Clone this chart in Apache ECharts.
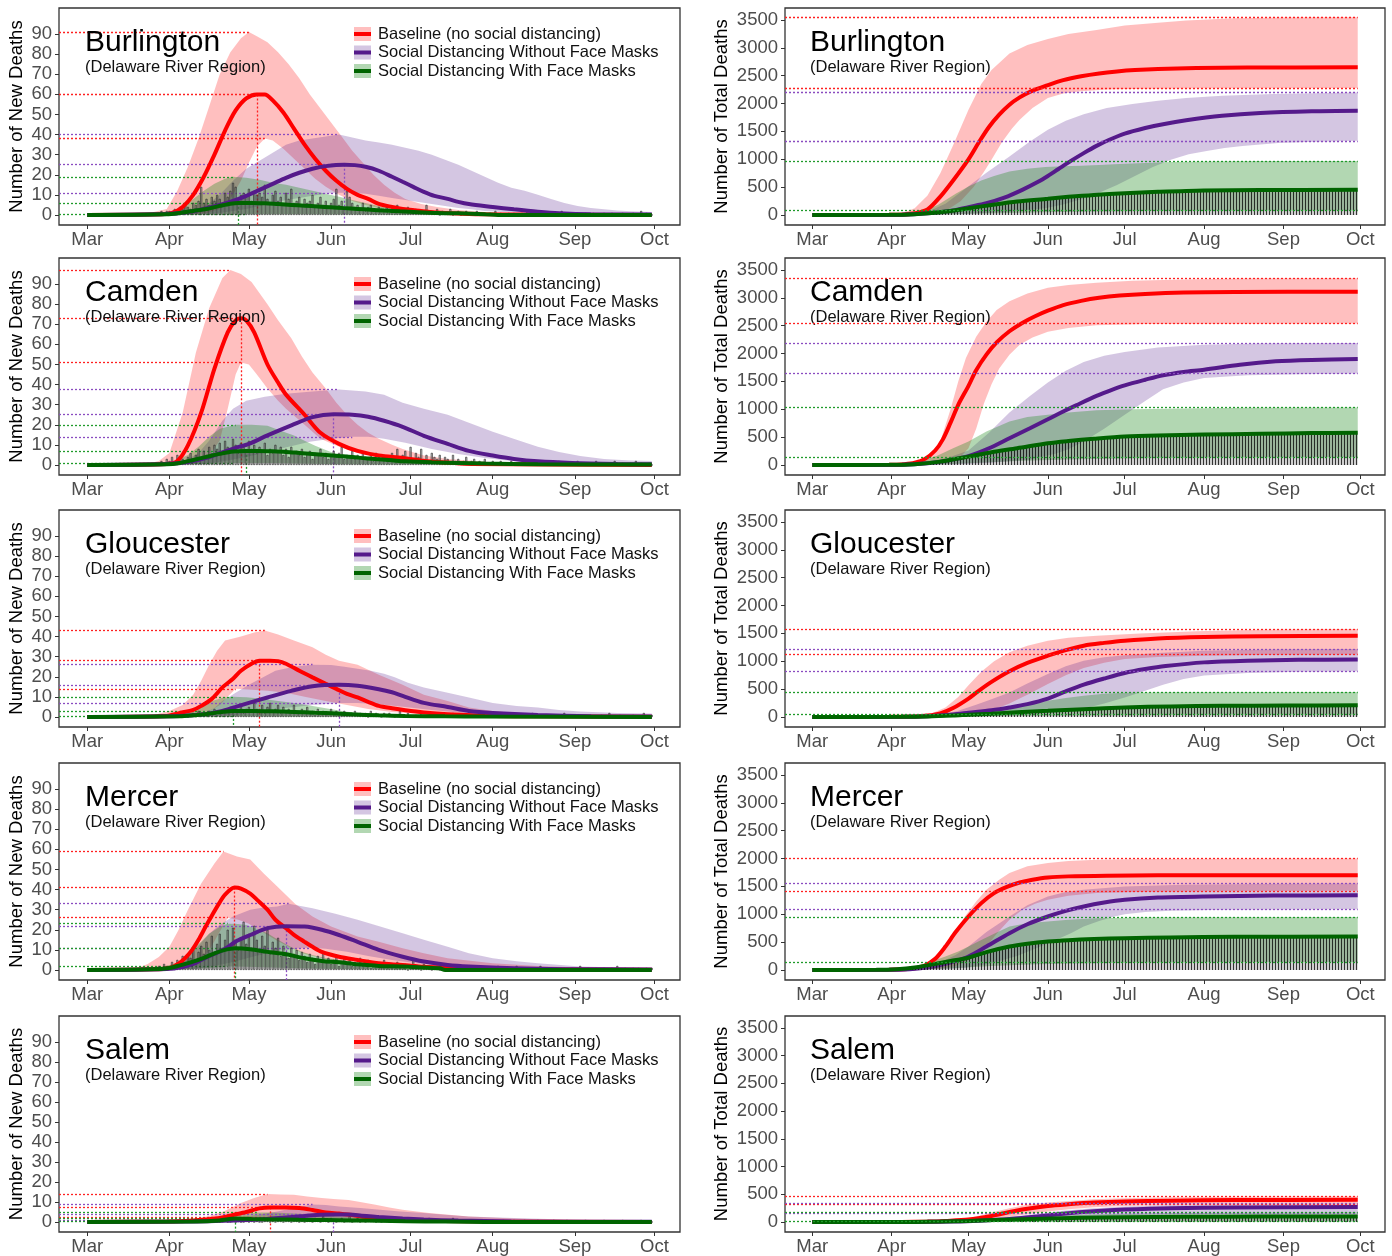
<!DOCTYPE html>
<html><head><meta charset="utf-8">
<script src="https://cdn.jsdelivr.net/npm/echarts@6/dist/echarts.min.js"></script>
<style>html,body{margin:0;padding:0;background:#fff}#c{width:1392px;height:1256px}</style>
</head><body><div id="c"></div>
<script>
// ---------- axis / category data ----------
const counties = ['Burlington','Camden','Gloucester','Mercer','Salem'];
const regionLabel = '(Delaware River Region)';
const monthStarts = [0,31,61,92,122,153,184,214];   // day index from Mar 1
const monthLabels = ['Mar','Apr','May','Jun','Jul','Aug','Sep','Oct'];
const newDeathTicks = [0,10,20,30,40,50,60,70,80,90];
const totalDeathTicks = [0,500,1000,1500,2000,2500,3000,3500];
const scenarioNames = ['Baseline (no social distancing)','Social Distancing Without Face Masks','Social Distancing With Face Masks'];
const barStartDay = 24; // observed daily deaths start Mar 25

// ---------- Burlington ----------
const burNewRed=[[0,0],[28,0.3],[32,1],[36,4],[40,10],[44,19],[48,30],[52,42],[56,52],[60,58],[64,60],[67,60],[70,57],[74,51],[78,43],[82,35],[86,28],[90,22],[94,17],[98,13],[102,10],[106,8],[110,5.5],[115,4],[120,2.8],[126,2],[132,1.2],[140,0.7],[150,0.3],[213,0]];
const burNewRedHi=[[0,0],[20,0.5],[25,1.5],[30,3],[34,12],[38,24],[42,38],[46,54],[50,70],[54,81],[58,88],[61,91],[64,89],[68,86],[72,81],[76,75],[80,68],[84,60],[88,53],[92,46],[96,39],[100,32],[104,26],[108,20],[112,15],[116,11],[120,8],[126,5.5],[132,4],[140,2.5],[150,1.5],[165,1],[213,0.5]];
const burNewRedLo=[[0,0],[40,0.3],[45,1],[50,3],[54,8],[58,17],[61,26],[64,34],[67,38],[70,37],[74,33],[78,28],[82,23],[86,18],[90,14],[95,10],[100,7],[105,5],[110,3.5],[120,2],[130,1],[145,0.5],[213,0]];
const burNewPur=[[0,0],[30,0.5],[38,1.5],[44,3],[50,5],[55,7],[60,9.5],[65,12.5],[70,15.5],[75,18.5],[80,21],[85,23],[90,24.3],[97,25],[101,24.8],[105,24],[110,22],[115,19],[119,16.5],[123,14],[127,11.5],[131,9.5],[136,8],[140,6.5],[144,5.4],[153,4],[161,2.8],[170,1.6],[178,0.8],[190,0.3],[213,0.2]];
const burNewPurHi=[[0,0],[35,0.5],[40,2],[45,5],[50,10],[55,17],[60,23],[65,27],[70,31],[75,35],[80,37],[85,38],[90,39],[95,40],[100,38.5],[105,37],[110,36],[115,35],[120,33.5],[125,32],[130,30],[135,27.5],[140,25],[145,22],[150,19],[155,16],[160,13.5],[165,12],[170,10],[175,8],[180,6],[185,4.5],[190,3.5],[195,2.8],[200,2.2],[205,1.8],[213,1.5]];
const burNewPurLo=[[0,0],[45,0.3],[50,1],[55,2],[60,3],[65,4.5],[70,6],[75,7.5],[80,8.5],[85,9.5],[90,10.5],[95,11],[100,11],[105,10.5],[110,9.5],[115,8.5],[120,7.5],[125,6.5],[130,5.5],[135,4.5],[140,3.5],[145,2.8],[150,2],[160,1.2],[170,0.6],[180,0.3],[213,0]];
const burNewGrn=[[0,0],[30,0.3],[35,1],[40,2],[45,3],[50,4.5],[54,5.6],[57,6],[62,6],[67,5.8],[72,5.4],[77,5],[82,4.6],[87,4.2],[92,3.8],[97,3.4],[102,3],[107,2.6],[112,2.2],[118,1.8],[125,1.4],[132,1],[140,0.8],[150,0.4],[155,0],[213,0]];
const burNewGrnHi=[[0,0],[28,0.5],[32,2],[36,4.5],[40,8],[44,12],[48,15.5],[52,18],[55,19],[60,18.5],[65,17.5],[70,16],[75,15],[80,13.5],[85,12],[90,10.5],[95,9],[100,7.5],[105,6],[110,4.5],[115,3.5],[120,2.5],[130,1.5],[140,1],[150,0.5],[213,0]];
const burNewGrnLo=[[0,0],[50,0.2],[60,0.4],[80,0.4],[100,0.2],[120,0],[213,0]];
const burTotRed=[[0,0],[30,2],[36,10],[40,30],[45,100],[50,330],[55,620],[61,1000],[65,1300],[69,1580],[73,1800],[77,1980],[81,2110],[85,2210],[92,2330],[98,2420],[105,2490],[112,2540],[119,2575],[126,2600],[135,2620],[150,2638],[170,2647],[213,2650]];
const burTotRedHi=[[0,0],[28,3],[35,30],[40,120],[45,350],[50,750],[55,1250],[61,1890],[66,2350],[70,2600],[77,2900],[84,3050],[92,3160],[100,3250],[111,3320],[122,3400],[135,3450],[146,3490],[165,3530],[185,3545],[213,3550]];
const burTotRedLo=[[0,0],[40,5],[47,30],[53,100],[58,250],[63,500],[67,770],[70,990],[74,1300],[78,1550],[81,1710],[86,1920],[92,2100],[98,2180],[105,2220],[115,2250],[130,2265],[150,2275],[213,2280]];
const burTotPur=[[0,0],[35,5],[45,30],[55,80],[61,140],[68,210],[75,310],[82,450],[88,590],[92,700],[96,820],[101,970],[106,1110],[111,1240],[116,1350],[122,1460],[130,1560],[137,1630],[146,1700],[160,1780],[175,1830],[195,1860],[213,1870]];
const burTotPurHi=[[0,0],[35,8],[45,60],[52,200],[60,480],[68,760],[77,1050],[85,1320],[92,1530],[99,1690],[106,1810],[115,1920],[125,1990],[135,2050],[146,2100],[160,2140],[180,2170],[213,2200]];
const burTotPurLo=[[0,0],[50,10],[65,30],[77,60],[91,120],[98,190],[105,280],[112,400],[119,540],[126,700],[133,860],[140,990],[147,1090],[154,1150],[161,1200],[168,1240],[182,1290],[196,1315],[213,1330]];
const burTotGrn=[[0,0],[30,3],[40,15],[50,50],[61,120],[70,180],[80,240],[92,290],[100,325],[110,360],[122,390],[135,415],[153,440],[175,448],[213,452]];
const burTotGrnHi=[[0,0],[35,10],[42,50],[49,180],[56,380],[61,510],[66,620],[71,700],[77,780],[84,830],[91,860],[98,875],[105,885],[112,895],[120,915],[130,935],[140,950],[155,960],[175,967],[213,970]];
const burTotGrnLo=[[0,0],[50,5],[63,20],[77,35],[91,50],[110,62],[130,72],[160,78],[213,80]];
const burBars=[0,1,0,1,2,1,2,2,1,3, 2,4,3,5,4,3,6,5,7,14, 6,8,5,9,7,10,8,6,11,9, 12,16,14,8,10,11,9,13,7,12, 10,11,9,15,8,6,10,12,7,9, 5,11,8,13,6,7,9,5,8,6, 7,10,4,6,9,5,7,4,6,8, 13,5,7,3,12,9,6,4,5,3, 6,2,4,5,3,2,4,3,2,4, 1,3,2,5,3,1,2,4,2,1, 3,2,1,2,5,1,2,1,3,0, 2,1,1,3,0,1,2,0,1,2, 0,1,0,2,1,0,1,0,1,0, 2,0,1,0,0,1,0,1,0,0, 1,0,2,0,1,0,0,1,0,1, 0,0,1,0,0,2,0,0,1,0, 0,1,0,0,1,0,0,1,0,0, 0,1,0,0,1,0,0,0,1,0, 0,0,1,0,0,2,0,1,0,0];

// ---------- Camden ----------
const camNewRed=[[0,0],[30,0.5],[34,2],[38,9.7],[43,26],[48,48],[53,66],[56,72],[58,73],[60,72],[63,66],[68,50],[72,41],[75,35],[82,25],[88,16],[95,10.5],[102,7],[110,4.7],[119,3.5],[127,2],[136,1.2],[145,0.5],[213,0]];
const camNewRedHi=[[0,0],[22,0.3],[27,2],[31,6],[36,26],[41,56],[46,78],[51,93],[54,97],[58,95],[62,91],[68,80],[72,72],[77,63],[81,54],[85,46],[90,38],[94,31],[98,25],[102,20],[106,16],[110,13],[115,10],[119,8],[127,4.7],[136,3],[153,1.3],[170,0.5],[213,0.3]];
const camNewRedLo=[[0,0],[40,0.5],[45,3],[50,12],[53,28],[56,45],[58,51],[61,50],[64,45],[68,38],[72,32],[75,28],[82,20],[88,13],[95,9],[102,6],[110,4],[120,2.5],[130,1.5],[145,0.5],[213,0]];
const camNewPur=[[0,0],[30,0.5],[38,1.5],[45,3.5],[51,6.3],[56,8.5],[61,10.5],[68,14.7],[77,19.7],[85,23.8],[93,25.2],[100,25],[106,24],[112,22],[119,19],[127,14.5],[136,10.5],[144,7],[153,4.7],[161,3],[170,1.8],[183,1],[200,0.5],[213,0.3]];
const camNewPurHi=[[0,0],[33,1],[38,3],[42,6],[46,12],[51,22],[55,28],[60,32],[67,34],[75,35.5],[85,36.5],[95,37.5],[100,37],[105,36.5],[112,35],[119,31],[127,28],[136,25],[145,20.5],[153,16.5],[162,12.5],[170,9],[178,6.5],[186,4.5],[195,3],[205,2.2],[213,2]];
const camNewPurLo=[[0,0],[45,0.5],[52,2],[60,4],[68,6.5],[76,9],[84,11.5],[92,13],[100,14],[106,14],[112,13],[120,11],[130,8],[140,5.5],[150,3.5],[160,2],[170,1],[185,0.3],[213,0]];
const camNewGrn=[[0,0],[30,0.3],[35,1],[40,2.5],[45,4],[50,5.5],[55,6.7],[60,7],[65,7],[70,6.8],[75,6.5],[80,6],[85,5.5],[90,5],[95,4.5],[100,4],[105,3.3],[110,2.8],[115,2.3],[120,1.8],[130,1.3],[140,1],[150,0.7],[170,0.3],[213,0.2]];
const camNewGrnHi=[[0,0],[28,0.5],[33,2],[38,5],[42,9],[46,14],[50,18],[56,20],[62,20],[68,19.5],[73,17],[78,14.7],[82,12],[86,9.5],[90,7.5],[94,5.5],[100,4],[105,3],[115,2],[125,1.5],[140,1],[160,0.5],[213,0.3]];
const camNewGrnLo=[[0,0],[45,0.5],[55,1],[70,1],[90,0.5],[110,0.2],[213,0]];
const camTotRed=[[0,0],[30,3],[36,15],[40,40],[44,110],[48,260],[51,460],[54,760],[57,1080],[61,1420],[64,1700],[68,1980],[72,2200],[77,2400],[82,2550],[87,2670],[92,2770],[98,2870],[105,2945],[112,3000],[120,3040],[130,3070],[145,3095],[165,3105],[213,3110]];
const camTotRedHi=[[0,0],[30,5],[38,30],[43,90],[47,200],[50,420],[54,1000],[57,1500],[60,1920],[64,2300],[68,2570],[72,2780],[77,2940],[84,3080],[92,3180],[100,3230],[111,3270],[125,3305],[145,3330],[170,3345],[213,3350]];
const camTotRedLo=[[0,0],[40,5],[50,30],[55,80],[58,150],[61,300],[64,650],[67,1100],[70,1450],[73,1730],[77,1980],[81,2160],[86,2290],[92,2390],[100,2460],[111,2510],[130,2530],[213,2540]];
const camTotPur=[[0,0],[35,5],[45,30],[53,80],[61,160],[69,300],[77,480],[85,660],[92,820],[98,960],[103,1070],[111,1240],[117,1350],[122,1430],[130,1530],[137,1610],[145,1670],[153,1710],[167,1800],[181,1860],[195,1885],[213,1900]];
const camTotPurHi=[[0,0],[35,8],[45,50],[53,130],[61,260],[69,580],[77,940],[85,1240],[92,1480],[99,1690],[106,1850],[114,1960],[122,2030],[135,2110],[153,2160],[175,2180],[213,2190]];
const camTotPurLo=[[0,0],[55,10],[70,40],[85,100],[95,200],[100,280],[106,420],[114,650],[122,900],[130,1150],[137,1360],[145,1480],[153,1560],[170,1610],[190,1630],[213,1640]];
const camTotGrn=[[0,0],[30,3],[40,15],[50,60],[61,150],[70,230],[80,300],[92,390],[100,430],[110,470],[122,510],[135,530],[153,545],[175,560],[195,572],[213,580]];
const camTotGrnHi=[[0,0],[35,10],[42,60],[49,170],[55,300],[61,420],[68,600],[77,780],[84,860],[92,900],[100,940],[111,980],[125,1000],[145,1015],[170,1025],[213,1030]];
const camTotGrnLo=[[0,0],[50,10],[65,40],[80,70],[100,100],[125,120],[160,133],[213,140]];
const camBars=[0,0,1,0,2,1,3,2,4,1, 5,2,3,1,4,6,3,5,8,4, 7,5,9,6,10,8,11,7,12,9, 8,13,10,6,11,9,7,12,8,10, 6,9,7,11,5,8,6,10,7,9, 5,8,4,9,6,7,5,8,4,6, 7,3,6,5,8,4,6,3,5,7, 4,6,9,3,5,4,7,3,5,4, 6,3,4,5,2,6,4,3,5,2, 4,6,3,8,2,5,7,4,9,3, 6,4,8,3,5,2,6,4,3,5, 2,4,3,1,5,2,3,1,2,4, 1,2,3,0,2,1,3,1,0,2, 1,0,2,1,0,1,2,0,1,0, 1,2,0,1,0,1,0,2,1,0, 0,1,0,1,2,0,1,0,0,1, 0,2,1,0,1,0,1,0,2,0, 1,0,1,0,0,2,1,0,1,0, 0,1,0,2,0,1,0,0,1,0];

// ---------- Gloucester ----------
const gloNewRed=[[0,0],[30,0.5],[35,2],[40,3.5],[43,5.5],[47,9],[51,14.7],[55,19],[58,23],[62,26.5],[65,28],[69,28],[72,27.8],[75,26.5],[80,23],[85,19.7],[90,16.5],[94,14],[98,11.5],[102,9.7],[106,7.5],[110,5.5],[115,4.3],[120,3.3],[127,2.2],[136,1.3],[150,0.6],[170,0.3],[213,0.1]];
const gloNewRedHi=[[0,0],[20,0.5],[25,1],[31,3],[36,6],[40,11],[43,18],[46,26],[49,33],[52,38],[58,40],[63,42],[67,43],[72,41],[78,38],[85,34.7],[90,31],[95,28],[102,26],[110,21],[119,16],[127,11],[136,8],[144,4.7],[153,3],[165,1.5],[180,0.8],[213,0.5]];
const gloNewRedLo=[[0,0],[40,0.5],[45,2],[50,6],[53,10],[56,14],[62,13.5],[68,13],[75,12],[82,10],[90,8],[98,6],[106,4],[115,2.5],[125,1.5],[140,0.5],[213,0]];
const gloNewPur=[[0,0],[35,0.5],[45,1.5],[51,3],[56,5],[61,7],[68,9.7],[77,13],[85,15.3],[95,16],[102,15.5],[110,13.8],[115,12.3],[119,10.5],[127,7],[136,5],[144,3],[153,2],[170,1],[190,0.4],[213,0.2]];
const gloNewPurHi=[[0,0],[38,0.5],[44,2],[48,4.5],[51,8],[56,12],[61,16],[66,19.5],[71,23],[78,25],[85,26],[92,25.8],[97,25],[102,24],[107,23],[112,21.5],[116,19.7],[121,17],[127,14.7],[136,12],[144,9.7],[153,7],[162,5.5],[170,4.7],[178,3.5],[186,2.7],[200,2],[213,1.7]];
const gloNewPurLo=[[0,0],[45,0.3],[55,1],[65,2.5],[75,4.5],[85,6],[95,7],[102,7],[110,6.3],[120,5],[130,3.5],[140,2.2],[150,1.3],[165,0.6],[180,0.2],[213,0]];
const gloNewGrn=[[0,0],[35,0.3],[40,0.8],[45,1.5],[50,2.3],[55,3],[62,3],[70,2.8],[78,2.5],[86,2.1],[94,1.7],[100,1.3],[110,0.8],[120,0.5],[135,0.3],[150,0.2],[213,0]];
const gloNewGrnHi=[[0,0],[30,0.5],[36,2],[41,4.5],[46,7.5],[51,9.5],[55,10],[60,9.8],[66,9],[72,8],[78,7],[84,5.7],[90,4.3],[96,3],[102,2],[110,1.2],[125,0.6],[150,0.3],[213,0]];
const gloNewGrnLo=[[0,0],[55,0.2],[80,0.1],[213,0]];
const gloTotRed=[[0,0],[30,2],[40,10],[45,25],[50,65],[55,160],[61,330],[65,470],[70,630],[77,820],[84,970],[92,1100],[99,1200],[106,1280],[114,1330],[122,1370],[135,1410],[153,1435],[175,1450],[213,1460]];
const gloTotRedHi=[[0,0],[35,5],[42,25],[47,70],[52,170],[57,360],[61,570],[66,810],[71,1000],[77,1160],[84,1280],[92,1370],[100,1420],[111,1460],[128,1500],[150,1540],[175,1565],[213,1580]];
const gloTotRedLo=[[0,0],[45,5],[55,20],[65,70],[72,150],[77,240],[84,400],[92,590],[99,750],[106,880],[114,975],[122,1040],[135,1075],[153,1100],[180,1115],[213,1120]];
const gloTotPur=[[0,0],[35,3],[45,15],[55,45],[61,75],[70,120],[77,170],[84,230],[92,330],[99,460],[106,580],[114,690],[122,790],[130,860],[138,915],[153,980],[170,1010],[190,1025],[213,1030]];
const gloTotPurHi=[[0,0],[40,5],[50,40],[57,110],[64,220],[70,320],[77,440],[84,600],[92,770],[99,910],[106,1010],[114,1070],[122,1110],[135,1150],[153,1190],[180,1210],[213,1220]];
const gloTotPurLo=[[0,0],[60,10],[80,30],[95,80],[105,140],[114,240],[122,350],[130,470],[137,580],[145,680],[153,745],[170,790],[190,810],[213,820]];
const gloTotGrn=[[0,0],[35,2],[45,8],[55,25],[61,40],[70,60],[80,85],[92,110],[106,140],[122,170],[140,190],[160,200],[185,206],[213,210]];
const gloTotGrnHi=[[0,0],[40,5],[50,25],[58,60],[66,110],[73,150],[80,195],[86,240],[92,290],[99,340],[106,380],[114,415],[122,435],[140,445],[213,450]];
const gloTotGrnLo=[[0,0],[60,5],[90,20],[120,32],[160,38],[213,40]];
const gloBars=[0,0,0,1,0,0,1,0,1,0, 1,0,2,1,0,1,2,1,3,1, 2,1,3,2,4,1,3,2,4,3, 5,2,4,3,6,2,4,5,3,7, 4,3,6,2,5,7,3,4,6,2, 5,3,4,2,6,3,2,4,3,5, 2,3,1,4,2,3,1,2,4,1, 3,2,1,3,2,1,2,3,1,2, 1,2,0,3,1,2,1,0,2,1, 2,1,0,1,3,1,0,2,1,0, 1,0,2,1,0,1,0,2,0,1, 0,1,0,1,2,0,1,0,0,1, 0,1,0,0,2,0,1,0,1,0, 0,1,0,2,0,0,1,0,0,1, 0,0,1,0,2,0,0,1,0,0, 1,0,0,0,1,0,2,0,0,1, 0,0,1,0,0,0,1,0,0,0, 1,0,0,2,0,0,0,1,0,0, 0,0,1,0,0,0,2,0,0,1];

// ---------- Mercer ----------
const merNewRed=[[0,0],[25,0.3],[31,1],[34.6,3.3],[37,6],[39.6,10],[42,15],[44.7,21.6],[47,27],[49.7,33],[52,37.5],[55.6,41],[58,40.5],[61.5,38],[64,35],[68,30],[71,25],[75,20.8],[78,17.5],[82,14],[85,11.5],[88.5,9],[95,6.6],[102,5],[110,3.3],[119,2.5],[127,1.6],[136,1.2],[150,0.6],[170,0.3],[213,0.1]];
const merNewRedHi=[[0,0],[18,0.5],[22.8,3],[27,6.5],[31,11.6],[34.5,20],[38,30],[43,43],[48,53],[51.4,59],[56.5,56.5],[61.5,55],[66.6,48],[71.7,41.5],[78.4,33],[85,26.6],[92,21.6],[102,16.6],[110,14],[119,10.8],[127,8.3],[136,5.8],[153,3.3],[170,2],[190,1],[213,0.5]];
const merNewRedLo=[[0,0],[35,0.5],[40,2],[44,6],[47,12],[50,19],[53,26],[57,25],[61,23],[66,19],[71,15],[76,11.5],[82,8],[90,5.5],[100,3.5],[110,2.3],[120,1.5],[135,0.8],[150,0.4],[213,0]];
const merNewPur=[[0,0],[30,0.5],[36,1.5],[40,3],[43,5],[47,7.5],[51.4,10],[56.5,14.5],[61.5,17.4],[68,20.8],[75,21.8],[82,21.6],[88.5,20],[95,17.4],[102,14],[110,10],[119,6.6],[127,4.2],[136,2.5],[144,1.7],[161,0.8],[180,0.4],[213,0.2]];
const merNewPurHi=[[0,0],[28,0.5],[33,2],[38,6.6],[42,12],[46,18],[50,22.5],[55,26.6],[61.5,30],[66,31],[71.7,31.6],[76,33],[80,32],[85,30.7],[93.6,28],[102,25],[110.5,21.6],[119,18.3],[127,15],[136,11.6],[144,8.3],[153,5.8],[162,4.3],[170,3.3],[186,1.7],[200,1.2],[213,1]];
const merNewPurLo=[[0,0],[40,0.5],[48,2],[55,4],[62,6.5],[70,9],[78,10.5],[84,11],[90,10.5],[98,9],[106,7],[115,5],[125,3.2],[135,2],[145,1.2],[160,0.5],[175,0.2],[213,0]];
const merNewGrn=[[0,0],[24,0.3],[31,1],[35,2.3],[39.6,4],[44,6],[48,8.3],[52,10],[56,10.8],[61.5,10.3],[68,9],[75,7.8],[82,5.8],[88.5,4.5],[95,3.8],[102,2.8],[110,2],[119,1.7],[127,1.2],[133,0.8],[135,0],[213,0]];
const merNewGrnHi=[[0,0],[24,0.5],[30,2],[34.6,4],[37,7],[39.6,10],[43,14],[46,18],[50,21.5],[53,23],[56,23],[60,22.4],[64,20.5],[68,18.3],[72,15],[76.7,11.6],[81,9],[85,7.5],[90,6],[95,5],[102,3.3],[110,2.3],[119,1.7],[135,0.8],[150,0.4],[213,0.2]];
const merNewGrnLo=[[0,0],[40,0.5],[48,1.2],[53,1.7],[60,1.6],[70,1.2],[85,0.7],[100,0.3],[120,0],[213,0]];
const merTotRed=[[0,0],[30,3],[36,12],[40,30],[44,80],[48,200],[52,420],[56,680],[61,960],[66,1200],[71,1380],[76,1490],[81,1570],[86,1620],[92,1660],[100,1680],[115,1692],[135,1698],[213,1700]];
const merTotRedHi=[[0,0],[30,5],[38,30],[43,90],[49,240],[54,550],[59.6,960],[64,1230],[68,1440],[73,1620],[77,1740],[84,1860],[92,1920],[100,1955],[111,1980],[130,1992],[213,2000]];
const merTotRedLo=[[0,0],[40,5],[50,25],[56,70],[62,200],[68,420],[72,650],[77,900],[82,1080],[87,1190],[92,1260],[100,1330],[111,1380],[130,1405],[160,1415],[213,1420]];
const merTotPur=[[0,0],[30,3],[38,15],[44,40],[50,90],[56,160],[61,240],[68,420],[77,660],[84,820],[92,960],[99,1060],[106,1140],[114,1210],[122,1260],[135,1300],[153,1320],[180,1335],[213,1340]];
const merTotPurHi=[[0,0],[35,8],[42,40],[50,140],[56,270],[61,420],[68,680],[77,960],[84,1160],[92,1320],[99,1400],[106,1440],[122,1500],[145,1530],[175,1545],[213,1550]];
const merTotPurLo=[[0,0],[50,10],[60,40],[70,120],[80,250],[88,400],[95,540],[101,660],[106,780],[112,880],[118,960],[122,1000],[130,1040],[140,1065],[160,1082],[213,1090]];
const merTotGrn=[[0,0],[25,3],[33,15],[40,45],[47,100],[54,160],[61,220],[68,320],[77,420],[84,470],[92,510],[100,535],[110,555],[122,570],[140,585],[165,595],[213,600]];
const merTotGrnHi=[[0,0],[30,10],[38,50],[45,130],[52,240],[57,330],[61,420],[66,540],[71,650],[77,780],[84,840],[92,870],[100,900],[111,930],[130,943],[213,950]];
const merTotGrnLo=[[0,0],[40,5],[55,30],[70,70],[85,100],[100,118],[125,130],[160,137],[213,140]];
const merBars=[0,1,0,2,1,3,2,1,4,2, 5,3,7,4,8,6,10,5,9,12, 8,14,10,17,9,13,18,11,15,20, 12,21,14,10,16,24,13,18,11,22, 15,9,17,12,20,8,14,11,16,7, 12,9,6,11,8,10,5,9,7,4, 8,6,3,7,5,9,4,6,3,5, 7,2,4,6,3,5,2,4,3,6, 2,3,5,1,4,2,3,1,5,2, 3,1,2,4,1,2,3,0,2,5, 1,2,0,3,1,2,0,1,2,0, 1,0,2,1,0,1,0,2,0,1, 0,1,0,0,2,0,1,0,0,1, 0,2,0,1,0,0,1,0,2,0, 0,1,0,0,1,0,0,2,0,0, 1,0,0,1,0,0,1,0,0,1, 0,0,2,0,0,1,0,0,1,0, 0,1,0,0,1,0,2,0,0,1, 0,0,1,0,1,0,0,1,0,1];

// ---------- Salem ----------
const salNewRed=[[0,0],[30,0.3],[40,0.8],[45,1.3],[50,2],[55,3.5],[60,5],[65,6.8],[69,7.3],[75,7.3],[80,7],[85,6],[90,4.8],[95,4.2],[100,3.5],[105,2.5],[110,1.8],[120,1],[135,0.5],[150,0.2],[213,0]];
const salNewRedHi=[[0,0],[25,0.3],[33,0.6],[39.6,1.2],[46,3],[51.4,5.3],[55,7.5],[58,9.5],[63,12],[68,14],[73,13.8],[78,13.6],[83,12.8],[88.5,12],[93,11.5],[98.6,11],[103,10],[108.8,8.6],[114,7.3],[119,6.1],[129,4.5],[144,2.8],[161,1.7],[180,1],[213,0.5]];
const salNewRedLo=[[0,0],[45,0.3],[55,1],[62,2],[70,2.5],[80,2.3],[90,1.8],[100,1.2],[110,0.7],[125,0.3],[140,0],[213,0]];
const salNewPur=[[0,0],[40,0.3],[50,0.6],[60,1],[68,1.5],[75,2.3],[82,3],[88,3.6],[93,3.8],[98,3.7],[103,3.3],[110,2.5],[119,1.7],[127,1.2],[140,0.7],[160,0.3],[213,0.1]];
const salNewPurHi=[[0,0],[40,0.5],[50,1.2],[58,2.3],[65,3.8],[71.7,5.3],[78,7],[85,8.8],[90,8.5],[95,7.8],[103,7],[110.5,6.1],[118,5.3],[127,4.5],[135,3.6],[144,2.8],[161,2],[180,1.2],[200,0.7],[213,0.5]];
const salNewPurLo=[[0,0],[60,0.3],[80,0.8],[95,1],[110,0.8],[130,0.4],[160,0.1],[213,0]];
const salNewGrn=[[0,0],[40,0.3],[50,0.8],[56,1.7],[62,1.5],[70,1.3],[80,1.1],[90,1],[100,0.8],[110,0.6],[120,0.4],[135,0.2],[150,0],[213,0]];
const salNewGrnHi=[[0,0],[35,0.3],[45,1],[52,2.5],[58,4],[64,4.8],[70,4.8],[78,4.3],[86,3.6],[95,2.8],[105,2],[115,1.3],[130,0.7],[150,0.3],[213,0]];
const salNewGrnLo=[[0,0],[55,0.3],[75,0.3],[100,0.1],[213,0]];
const salTotRed=[[0,0],[35,2],[45,8],[52,20],[61,45],[70,110],[77,180],[84,240],[92,290],[100,320],[110,350],[122,370],[140,385],[165,395],[213,400]];
const salTotRedHi=[[0,0],[38,3],[48,15],[56,40],[63,90],[70,170],[77,250],[84,310],[92,350],[100,380],[110,410],[122,430],[140,445],[170,455],[213,460]];
const salTotRedLo=[[0,0],[45,2],[55,10],[65,30],[75,80],[84,140],[92,190],[100,230],[110,265],[122,290],[140,305],[170,315],[213,320]];
const salTotPur=[[0,0],[45,3],[55,10],[65,25],[77,55],[88,100],[98,150],[110,195],[122,225],[140,250],[165,262],[213,270]];
const salTotPurHi=[[0,0],[45,5],[55,15],[65,40],[77,90],[88,150],[98,205],[110,250],[122,280],[140,305],[170,322],[213,330]];
const salTotPurLo=[[0,0],[60,3],[75,15],[88,40],[100,70],[112,100],[125,125],[145,145],[175,155],[213,160]];
const salTotGrn=[[0,0],[40,2],[50,8],[61,20],[75,40],[90,60],[105,75],[122,85],[145,93],[175,98],[213,100]];
const salTotGrnHi=[[0,0],[40,4],[50,15],[61,35],[75,70],[90,105],[105,130],[122,150],[145,162],[175,168],[213,170]];
const salTotGrnLo=[[0,0],[60,2],[90,6],[130,11],[213,15]];
const salBars=[0,0,0,0,0,0,0,0,0,0, 0,0,0,0,0,0,1,0,0,0, 0,1,0,0,1,0,0,0,1,0, 0,1,0,1,0,0,2,0,1,0, 1,0,0,1,2,0,1,0,1,2, 0,1,3,0,1,2,0,1,0,2, 1,0,2,1,0,3,1,0,2,1, 0,1,2,0,1,3,0,1,2,0, 1,0,2,1,3,0,1,0,2,1, 0,1,0,2,0,1,0,0,1,0, 1,0,0,1,0,2,0,0,1,0, 0,1,0,0,2,0,0,1,0,0, 0,0,1,0,0,1,0,0,0,1, 0,0,0,1,0,0,0,1,0,0, 0,1,0,0,0,0,1,0,0,0, 0,0,1,0,0,0,0,1,0,0, 0,0,0,0,1,0,0,0,0,0, 0,1,0,0,0,0,0,0,1,0, 0,0,0,0,0,1,0,0,0,0];

// ---------- assembly ----------
const panels = [
  {bars:burBars, newD:[[burNewRedLo,burNewRed,burNewRedHi],[burNewPurLo,burNewPur,burNewPurHi],[burNewGrnLo,burNewGrn,burNewGrnHi]],
   totD:[[burTotRedLo,burTotRed,burTotRedHi],[burTotPurLo,burTotPur,burTotPurHi],[burTotGrnLo,burTotGrn,burTotGrnHi]]},
  {bars:camBars, newD:[[camNewRedLo,camNewRed,camNewRedHi],[camNewPurLo,camNewPur,camNewPurHi],[camNewGrnLo,camNewGrn,camNewGrnHi]],
   totD:[[camTotRedLo,camTotRed,camTotRedHi],[camTotPurLo,camTotPur,camTotPurHi],[camTotGrnLo,camTotGrn,camTotGrnHi]]},
  {bars:gloBars, newD:[[gloNewRedLo,gloNewRed,gloNewRedHi],[gloNewPurLo,gloNewPur,gloNewPurHi],[gloNewGrnLo,gloNewGrn,gloNewGrnHi]],
   totD:[[gloTotRedLo,gloTotRed,gloTotRedHi],[gloTotPurLo,gloTotPur,gloTotPurHi],[gloTotGrnLo,gloTotGrn,gloTotGrnHi]]},
  {bars:merBars, newD:[[merNewRedLo,merNewRed,merNewRedHi],[merNewPurLo,merNewPur,merNewPurHi],[merNewGrnLo,merNewGrn,merNewGrnHi]],
   totD:[[merTotRedLo,merTotRed,merTotRedHi],[merTotPurLo,merTotPur,merTotPurHi],[merTotGrnLo,merTotGrn,merTotGrnHi]]},
  {bars:salBars, newD:[[salNewRedLo,salNewRed,salNewRedHi],[salNewPurLo,salNewPur,salNewPurHi],[salNewGrnLo,salNewGrn,salNewGrnHi]],
   totD:[[salTotRedLo,salTotRed,salTotRedHi],[salTotPurLo,salTotPur,salTotPurHi],[salTotGrnLo,salTotGrn,salTotGrnHi]]}
];

const FONT = '"Liberation Sans", Arial, Helvetica, sans-serif';
const X_MIN = -10.65, X_MAX = 223.65;
const NEW_MIN = -5, NEW_MAX = 103, TOT_MIN = -180, TOT_MAX = 3715;
const ROW_ZERO = [215, 465, 717, 970, 1223];
const LINE_COLORS = ['#ff0000', '#551a8b', '#006400'];
const DOT_COLORS = ['#ff2020', '#8a4cc0', '#1f9a2a'];
const BAND_COLORS = ['rgba(255,0,0,0.25)', 'rgba(85,26,139,0.25)', 'rgba(34,139,34,0.35)'];

const hatch = (function(){
  const c = document.createElement('canvas'); c.width = 3; c.height = 6;
  const x = c.getContext('2d');
  x.fillStyle = 'rgba(100,100,100,0.3)'; x.fillRect(0,0,3,6);
  x.fillStyle = 'rgba(0,0,0,0.75)'; x.fillRect(0,0,1,6);
  return c;
})();

function peakOf(arr){ let b = arr[0]; for (const p of arr) if (p[1] > b[1]) b = p; return b; }

function bandSeries(gi, lo, hi, color){
  return {
    type:'custom', xAxisIndex:gi, yAxisIndex:gi, data:[[0,0]], z:1, silent:true, clip:true,
    renderItem: function(params, api){
      const pts = hi.map(p => api.coord(p)).concat(lo.slice().reverse().map(p => api.coord(p)));
      return {type:'polygon', shape:{points:pts}, style:{fill:color}};
    }
  };
}

const grid = [], xAxis = [], yAxis = [], series = [], title = [], elements = [];

panels.forEach(function(pn, r){
  const zero = ROW_ZERO[r];
  const top = zero - 207;
  [true, false].forEach(function(isNew, side){
    const gi = r*2 + side;
    grid.push({left: isNew ? 59 : 785, top: top, width: isNew ? 621 : 600, height: 217,
      show:true, borderColor:'#333', borderWidth:1.3, backgroundColor:'transparent'});
    xAxis.push({type:'value', gridIndex:gi, min:X_MIN, max:X_MAX, position:'bottom',
      axisLine:{show:false, onZero:false}, splitLine:{show:false},
      axisTick:{show:true, customValues:monthStarts, length:4, lineStyle:{color:'#333', width:1}},
      axisLabel:{show:true, customValues:monthStarts, formatter: v => monthLabels[monthStarts.indexOf(v)],
        color:'#4d4d4d', fontFamily:FONT, fontSize:18.5, margin:5}});
    const ticks = isNew ? newDeathTicks : totalDeathTicks;
    yAxis.push({type:'value', gridIndex:gi, min: isNew ? NEW_MIN : TOT_MIN, max: isNew ? NEW_MAX : TOT_MAX, position:'left',
      axisLine:{show:false, onZero:false}, splitLine:{show:false},
      axisTick:{show:true, customValues:ticks, length:4, lineStyle:{color:'#333', width:1}},
      axisLabel:{show:true, customValues:ticks, formatter: v => String(v), color:'#4d4d4d', fontFamily:FONT, fontSize:18.5, margin:7},
      name: isNew ? 'Number of New Deaths' : 'Number of Total Deaths',
      nameLocation:'middle', nameGap: isNew ? 33 : 54, nameRotate:90,
      nameTextStyle:{fontFamily:FONT, fontSize:18.5, color:'#000'}});

    const sets = isNew ? pn.newD : pn.totD;
    sets.forEach((s,k) => series.push(bandSeries(gi, s[0], s[2], BAND_COLORS[k])));

    if (isNew) {
      series.push({type:'bar', xAxisIndex:gi, yAxisIndex:gi, silent:true, z:3, barWidth:2,
        data: pn.bars.map((v,i) => [barStartDay + i, v]),
        itemStyle:{color:'rgba(140,140,140,0.5)', borderColor:'#222', borderWidth:0.6}});
    }

    sets.forEach(function(s, k){
      const ml = [];
      if (isNew) {
        [s[2], s[1], s[0]].forEach(a => { const p = peakOf(a); ml.push([{coord:[X_MIN, p[1]]}, {coord:[p[0], p[1]]}]); });
        const pm = peakOf(s[1]);
        ml.push([{coord:[pm[0], pm[1]]}, {coord:[pm[0], NEW_MIN]}]);
      } else {
        [s[2], s[0]].forEach(a => { const p = a[a.length-1]; ml.push([{coord:[X_MIN, p[1]]}, {coord:[p[0], p[1]]}]); });
      }
      const ser = {type:'line', xAxisIndex:gi, yAxisIndex:gi, data:s[1], smooth:0.3, showSymbol:false, symbol:'none',
        silent:true, z:4+k, lineStyle:{color:LINE_COLORS[k], width:4}, itemStyle:{color:LINE_COLORS[k]},
        markLine:{silent:true, symbol:['none','none'], label:{show:false}, z: isNew ? 2 : 7,
          lineStyle:{color:DOT_COLORS[k], width:1.3, type:[2,2], opacity:1}, emphasis:{disabled:true}, data:ml}};
      if (!isNew && k === 2) ser.areaStyle = {color:{image:hatch, repeat:'repeat'}, opacity:1};
      series.push(ser);
    });

    title.push({text: counties[r], subtext: regionLabel, left: isNew ? 85 : 810, top: zero - 187,
      padding:0, itemGap:1,
      textStyle:{fontFamily:FONT, fontSize:30, fontWeight:'normal', color:'#000'},
      subtextStyle:{fontFamily:FONT, fontSize:16.5, color:'#111'}});
  });

  for (let k = 0; k < 3; k++) {
    const y = zero - 181 + k*18.5;
    elements.push({type:'rect', silent:true, z:100, shape:{x:354, y:y-7, width:17, height:14}, style:{fill:BAND_COLORS[k]}});
    elements.push({type:'line', silent:true, z:101, shape:{x1:354, y1:y, x2:371, y2:y}, style:{stroke:LINE_COLORS[k], lineWidth:4}});
    elements.push({type:'text', silent:true, z:101, x:378, y:y,
      style:{text:scenarioNames[k], fontFamily:FONT, fontSize:16.5, fill:'#111', verticalAlign:'middle', align:'left'}});
  }
});

const chart = echarts.init(document.getElementById('c'), null, {renderer:'canvas'});
chart.setOption({animation:false, backgroundColor:'#fff', title, grid, xAxis, yAxis, series, graphic:{elements}});
</script>
</body></html>
